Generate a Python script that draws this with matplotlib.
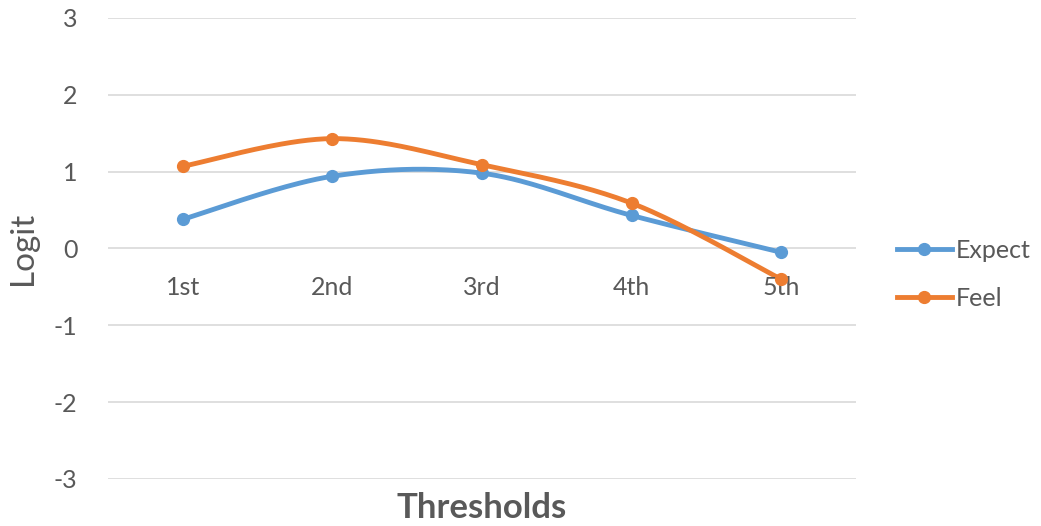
import numpy as np
import matplotlib
matplotlib.use('Agg')
import matplotlib.pyplot as plt
from matplotlib import rcParams

rcParams['font.family'] = ['Lato', 'DejaVu Sans']

categories = ['1st', '2nd', '3rd', '4th', '5th']
expect = [0.38, 0.94, 0.98, 0.43, -0.05]
feel = [1.07, 1.43, 1.09, 0.59, -0.40]
yticks = [-3, -2, -1, 0, 1, 2, 3]

blue = '#5B9BD5'
orange = '#ED7D31'
grey = '#595959'


def smooth(xs, ys, n=40):
    # excel style bezier smoothing through the points
    p = np.column_stack([xs, ys]).astype(float)
    out = []
    for i in range(len(p) - 1):
        p0 = p[i - 1] if i > 0 else p[i]
        p3 = p[i + 2] if i + 2 < len(p) else p[i + 1]
        c1 = p[i] + (p[i + 1] - p0) / 6.0
        c2 = p[i + 1] - (p3 - p[i]) / 6.0
        t = np.linspace(0, 1, n)[:, None]
        seg = ((1 - t) ** 3) * p[i] + 3 * ((1 - t) ** 2) * t * c1 + 3 * (1 - t) * t ** 2 * c2 + t ** 3 * p[i + 1]
        out.append(seg if i == 0 else seg[1:])
    out = np.vstack(out)
    return out[:, 0], out[:, 1]


fig = plt.figure(figsize=(10.41, 5.26), dpi=100)
ax = fig.add_axes([0.1037, 0.0894, 0.8223 - 0.1037, 0.9658 - 0.0894])

x = np.arange(len(categories))
for vals, col, name in [(expect, blue, 'Expect'), (feel, orange, 'Feel')]:
    sx, sy = smooth(x, vals)
    ax.plot(sx, sy, color=col, lw=3.5, solid_capstyle='round', zorder=3)
    ax.plot(x, vals, 'o', color=col, ms=8.5, zorder=4)
    ax.plot([], [], '-o', color=col, lw=3.5, ms=8.5, label=name)

ax.set_xlim(-0.5, 4.5)
ax.set_ylim(-3, 3)
ax.set_yticks(yticks)
ax.set_yticklabels([str(v) for v in yticks])
ax.set_xticks([])
ax.yaxis.grid(True, color='#D9D9D9', lw=1.2)
ax.set_axisbelow(True)
for s in ax.spines.values():
    s.set_visible(False)
ax.tick_params(axis='y', length=0, labelsize=18, labelcolor=grey, pad=22)

for i, lab in enumerate(categories):
    ax.annotate(lab, (i, 0), xytext=(0, -28), textcoords='offset points',
                ha='center', va='center', fontsize=18, color=grey)

ax.text(-0.113, 0.5, 'Logit', transform=ax.transAxes, rotation=90,
        ha='center', va='center', fontsize=24, color=grey)
fig.text(0.463, 0.035, 'Thresholds', ha='center', va='center',
         fontsize=25, fontweight='bold', color=grey)

ax.legend(loc='center left', bbox_to_anchor=(0.840, 0.478), bbox_transform=fig.transFigure,
          frameon=False, fontsize=18, handlelength=2.2, labelspacing=1.0,
          handletextpad=0.15, labelcolor=grey)

fig.savefig('out.png', dpi=100)
